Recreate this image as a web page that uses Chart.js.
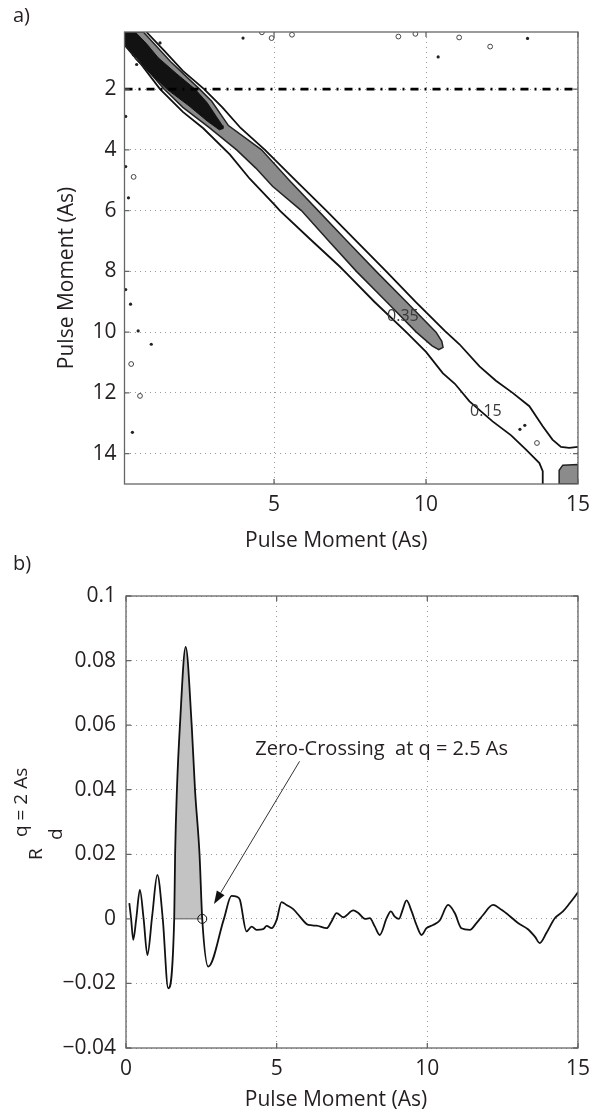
<!DOCTYPE html>
<html>
<head>
<meta charset="utf-8">
<script src="https://cdn.jsdelivr.net/npm/chart.js@4.4.1/dist/chart.umd.min.js"></script>
<style>
  body { margin: 0; background: #fff; }
  #page { position: relative; width: 598px; height: 1114px; overflow: hidden; }
  .box { position: absolute; left: 0; width: 598px; }
  .tag { position: absolute; left: 13px; font: 20px "Open Sans", sans-serif; color: #231f20; line-height: 1; }
</style>
</head>
<body>
<div id="page">
  <div class="box" style="top:0;height:560px"><canvas id="chartA" width="598" height="560"></canvas></div>
  <div class="box" style="top:560px;height:554px"><canvas id="chartB" width="598" height="554"></canvas></div>
  <div class="tag" style="top:5px">a)</div>
  <div class="tag" style="top:553px">b)</div>
</div>
<script>
const FONT = "'Open Sans', sans-serif";
const INK = "#231f20";

// ---- panel a: pulse moment vs pulse moment ----
const xTicksA = [5, 10, 15];
const yTicksA = [2, 4, 6, 8, 10, 12, 14];
const qMinA = 0.08;
const pMinA = 0.12;
const qRef = 2; // reference pulse moment (dash-dot line)

// 0.35 contour, filled grey band along the diagonal
const bandX = [0.08, 0.08, 0.45, 0.95, 1.38, 2.0, 2.85, 3.77, 4.4, 4.95, 5.9, 6.8, 7.71, 8.7, 9.68, 10.2, 10.42, 10.56, 10.52, 10.33, 9.35, 8.36, 7.4, 6.45, 5.5, 4.59, 3.5, 2.95, 2.55, 1.6, 0.7, 0.08];
const bandY = [0.12, 0.45, 1.0, 1.5, 2.0, 2.6, 3.25, 4.0, 4.6, 5.2, 6.0, 7.0, 8.0, 9.0, 10.0, 10.45, 10.58, 10.5, 10.3, 10.0, 9.0, 8.0, 7.0, 6.0, 5.0, 4.0, 3.2, 2.4, 2.0, 1.1, 0.12, 0.12];
// dark core at the upper left
const coreX = [0.08, 0.43, 0.8, 1.19, 1.8, 2.4, 2.8, 3.1, 3.3, 3.32, 3.2, 2.8, 2.2, 1.47, 0.9, 0.48, 0.08, 0.08];
const coreY = [0.12, 0.12, 0.5, 0.97, 1.5, 2.0, 2.45, 2.9, 3.2, 3.3, 3.34, 3.05, 2.55, 2.0, 1.45, 0.97, 0.5, 0.12];
// 0.15 contour lines on both sides
const lowX = [0.08, 0.6, 1.25, 2.0, 2.67, 3.55, 4.2, 5.02, 5.19, 6.2, 7.16, 7.32, 8.3, 9.35, 10.0, 10.55, 10.95, 11.43, 12.19, 12.8, 13.29, 13.73, 13.84, 13.84];
const lowY = [0.55, 1.15, 2.0, 2.75, 3.29, 4.16, 4.95, 5.81, 6.0, 6.95, 7.84, 8.0, 9.0, 10.0, 10.65, 11.35, 11.7, 12.28, 12.94, 13.4, 13.87, 14.31, 14.58, 15.0];
const upX = [0.8, 1.4, 2.0, 2.7, 3.3, 3.9, 4.7, 5.7, 6.72, 7.7, 8.69, 9.65, 10.61, 11.1, 11.76, 12.3, 12.85, 13.4, 13.84, 14.16, 14.44, 14.71, 15.0];
const upY = [0.12, 0.75, 1.4, 2.0, 2.6, 3.28, 4.0, 5.0, 6.0, 7.0, 8.0, 9.0, 9.95, 10.4, 11.13, 11.6, 12.0, 12.44, 13.1, 13.54, 13.78, 13.81, 13.78];
// grey patch in the lower right corner
const patchX = [14.38, 14.38, 14.5, 15.0, 15.0, 14.38];
const patchY = [15.0, 14.55, 14.38, 14.36, 15.0, 15.0];
// small noise contours
const ringX = [4.6, 4.92, 5.59, 9.09, 9.65, 11.09, 12.11, 0.38, 0.3, 0.59, 13.65];
const ringY = [0.13, 0.32, 0.21, 0.27, 0.18, 0.3, 0.6, 4.89, 11.05, 12.1, 13.65];
const dotX = [1.25, 0.37, 0.48, 3.98, 10.4, 13.34, 0.21, 0.28, 0.53, 0.96, 0.34, 13.09, 13.25, 0.12, 0.12, 0.12];
const dotY = [0.48, 0.87, 1.19, 0.32, 0.94, 0.33, 5.58, 9.08, 9.96, 10.4, 13.3, 13.2, 13.07, 2.9, 4.55, 8.6];
const contourLabels = [
  { text: "0.35", q: 9.24, p: 9.48 },
  { text: "0.15", q: 11.97, p: 12.61 },
];

// ---- panel b: R_d for q = 2 As ----
const xTicksB = [0, 5, 10, 15];
const yTicksB = [-0.04, -0.02, 0, 0.02, 0.04, 0.06, 0.08, 0.1];
const qB = [0.11, 0.17, 0.24, 0.34, 0.46, 0.585, 0.71, 0.87, 1.04, 1.22, 1.4, 1.6, 1.63, 1.69, 1.79, 1.98, 2.18, 2.29, 2.44, 2.53, 2.73, 3.25, 3.5, 3.67, 3.78, 4.0, 4.17, 4.33, 4.55, 4.67, 4.83, 5.0, 5.16, 5.33, 5.55, 5.77, 6.05, 6.32, 6.66, 6.82, 6.99, 7.21, 7.54, 7.71, 7.93, 8.09, 8.26, 8.42, 8.65, 8.79, 8.92, 9.06, 9.18, 9.31, 9.48, 9.64, 9.81, 9.97, 10.19, 10.41, 10.69, 10.91, 11.13, 11.41, 11.63, 11.85, 12.18, 12.46, 12.73, 13.01, 13.34, 13.57, 13.73, 13.95, 14.23, 14.5, 14.73, 15.0];
const rB = [0.0049, 0.0, -0.0065, 0.0, 0.009, 0.0, -0.0112, 0.001, 0.0136, 0.0, -0.0215, 0.0, 0.02, 0.04, 0.06, 0.0842, 0.06, 0.04, 0.02, 0.0, -0.0148, 0.0, 0.0071, 0.0069, 0.0059, -0.0039, -0.0024, -0.0034, -0.0032, -0.0022, -0.0029, -0.0003, 0.0052, 0.0043, 0.003, 0.0007, -0.0019, -0.0021, -0.0029, -0.0008, 0.0018, 0.0005, 0.0026, 0.0018, 0.0, 0.0002, -0.0024, -0.005, 0.0002, 0.0023, 0.0007, 0.0, 0.0028, 0.0057, 0.0023, -0.0019, -0.005, -0.0029, -0.0019, -0.0005, 0.0043, 0.0018, -0.0029, -0.0034, -0.0013, 0.0012, 0.0043, 0.0028, 0.0009, -0.0013, -0.0032, -0.0055, -0.0075, -0.0044, 0.0002, 0.0023, 0.0049, 0.0082];
const peakFrom = 1.6;
const zeroCross = 2.53;
const noteText = "Zero-Crossing  at q = 2.5 As";
const noteAt = [4.29, 0.0524];
const arrowFrom = [5.76, 0.0488];
const arrowTo = [2.92, 0.0046];

function pts(xs, ys) {
  return xs.map((x, i) => ({ x: x, y: ys[i] }));
}

function axisOpts(ticks, fit, pad, cb) {
  return {
    type: "linear",
    afterBuildTicks: (s) => { s.ticks = ticks.map((v) => ({ value: v })); },
    afterFit: fit,
    grid: { color: "#9a9a9a", lineWidth: 1, drawTicks: false },
    border: { display: false, dash: [1, 4] },
    ticks: {
      padding: pad,
      autoSkip: false,
      maxRotation: 0,
      color: INK,
      font: { family: FONT, size: 21 },
      callback: cb || ((v) => String(v)),
    },
  };
}

// box round the plot with small inward ticks, as in matlab
const frame = {
  id: "frame",
  afterDatasetsDraw(chart) {
    const { ctx, chartArea: a, scales } = chart;
    ctx.save();
    ctx.strokeStyle = "#666";
    ctx.lineWidth = 1.3;
    ctx.strokeRect(a.left, a.top, a.right - a.left, a.bottom - a.top);
    ctx.beginPath();
    scales.x.ticks.forEach((t) => {
      const p = scales.x.getPixelForValue(t.value);
      ctx.moveTo(p, a.bottom); ctx.lineTo(p, a.bottom - 5);
      ctx.moveTo(p, a.top); ctx.lineTo(p, a.top + 5);
    });
    scales.y.ticks.forEach((t) => {
      const p = scales.y.getPixelForValue(t.value);
      ctx.moveTo(a.left, p); ctx.lineTo(a.left + 5, p);
      ctx.moveTo(a.right, p); ctx.lineTo(a.right - 5, p);
    });
    ctx.stroke();
    ctx.restore();
  },
};

const textA = {
  id: "textA",
  afterDraw(chart) {
    const { ctx, chartArea: a, scales: { x, y } } = chart;
    ctx.save();
    ctx.fillStyle = INK;
    ctx.font = "21px " + FONT;
    ctx.textAlign = "center";
    ctx.textBaseline = "middle";
    ctx.fillText("Pulse Moment (As)", (a.left + a.right) / 2 - 15, a.bottom + 57);
    ctx.save();
    ctx.translate(a.left - 57, (a.top + a.bottom) / 2 + 20);
    ctx.rotate(-Math.PI / 2);
    ctx.fillText("Pulse Moment (As)", 0, 0);
    ctx.restore();
    ctx.fillStyle = "#3a3a3a";
    ctx.font = "16px " + FONT;
    contourLabels.forEach((l) => {
      ctx.fillText(l.text, x.getPixelForValue(l.q), y.getPixelForValue(l.p));
    });
    ctx.restore();
  },
};

const textB = {
  id: "textB",
  afterDraw(chart) {
    const { ctx, chartArea: a, scales: { x, y } } = chart;
    ctx.save();
    ctx.fillStyle = INK;
    ctx.font = "21px " + FONT;
    ctx.textAlign = "center";
    ctx.textBaseline = "middle";
    ctx.fillText("Pulse Moment (As)", (a.left + a.right) / 2 - 16, a.bottom + 52);

    // R_d^{q = 2 As}, rotated
    ctx.save();
    ctx.translate(a.left - 84, (a.top + a.bottom) / 2 + 38);
    ctx.rotate(-Math.PI / 2);
    ctx.textAlign = "left";
    ctx.textBaseline = "alphabetic";
    ctx.font = "19px " + FONT;
    ctx.fillText("R", 0, 0);
    ctx.fillText("d", 20, 20);
    ctx.fillText("q = 2 As", 23, -15);
    ctx.restore();

    // annotation
    ctx.textAlign = "left";
    ctx.font = "20px " + FONT;
    ctx.fillText(noteText, x.getPixelForValue(noteAt[0]), y.getPixelForValue(noteAt[1]));

    const x0 = x.getPixelForValue(arrowFrom[0]), y0 = y.getPixelForValue(arrowFrom[1]);
    const x1 = x.getPixelForValue(arrowTo[0]), y1 = y.getPixelForValue(arrowTo[1]);
    const ang = Math.atan2(y1 - y0, x1 - x0);
    const len = 13, half = 4.5;
    ctx.strokeStyle = "#333";
    ctx.lineWidth = 1;
    ctx.beginPath();
    ctx.moveTo(x0, y0);
    ctx.lineTo(x1 - Math.cos(ang) * len, y1 - Math.sin(ang) * len);
    ctx.stroke();
    ctx.fillStyle = "#111";
    ctx.beginPath();
    ctx.moveTo(x1, y1);
    ctx.lineTo(x1 - Math.cos(ang) * len - Math.sin(ang) * half, y1 - Math.sin(ang) * len + Math.cos(ang) * half);
    ctx.lineTo(x1 - Math.cos(ang) * len + Math.sin(ang) * half, y1 - Math.sin(ang) * len - Math.cos(ang) * half);
    ctx.closePath();
    ctx.fill();
    ctx.restore();
  },
};

new Chart(document.getElementById("chartA"), {
  type: "scatter",
  data: {
    datasets: [
      {
        data: [{ x: qMinA, y: qRef }, { x: 15, y: qRef }],
        showLine: true, pointRadius: 0, clip: 0,
        borderColor: "#000", borderWidth: 2.6, borderDash: [8, 6, 2, 6],
      },
      {
        data: pts(coreX, coreY),
        showLine: true, pointRadius: 0, clip: 0, fill: "shape",
        backgroundColor: "#121212", borderColor: "#121212", borderWidth: 1,
      },
      {
        data: pts(bandX, bandY),
        showLine: true, pointRadius: 0, clip: 0, fill: "shape",
        backgroundColor: "#8b8b8b", borderColor: "#222", borderWidth: 1.5,
      },
      {
        data: pts(lowX, lowY),
        showLine: true, pointRadius: 0, clip: 0,
        borderColor: "#111", borderWidth: 1.8,
      },
      {
        data: pts(upX, upY),
        showLine: true, pointRadius: 0, clip: 0,
        borderColor: "#111", borderWidth: 1.8,
      },
      {
        data: pts(patchX, patchY),
        showLine: true, pointRadius: 0, clip: 0, fill: "shape",
        backgroundColor: "#8b8b8b", borderColor: "#222", borderWidth: 1.5,
      },
      {
        data: pts(ringX, ringY),
        pointRadius: 2.4, pointBorderWidth: 1, clip: 0,
        pointBackgroundColor: "rgba(0,0,0,0)", pointBorderColor: "#444",
      },
      {
        data: pts(dotX, dotY),
        pointRadius: 1.6, pointBorderWidth: 0, clip: 0,
        pointBackgroundColor: "#222",
      },
    ],
  },
  options: {
    responsive: false,
    animation: false,
    events: [],
    layout: { padding: { top: 32, right: 19, left: 0, bottom: 0 } },
    plugins: { legend: { display: false }, tooltip: { enabled: false } },
    scales: {
      x: Object.assign(axisOpts(xTicksA, (s) => { s.height = 76; }, 8), { min: qMinA, max: 15 }),
      y: Object.assign(axisOpts(yTicksA, (s) => { s.width = 124.5; }, 8), { min: pMinA, max: 15, reverse: true }),
    },
  },
  plugins: [frame, textA],
});

const lineB = pts(qB, rB);
const peakB = lineB.filter((d) => d.x >= peakFrom && d.x <= zeroCross);

new Chart(document.getElementById("chartB"), {
  type: "scatter",
  data: {
    datasets: [
      {
        data: [{ x: zeroCross, y: 0 }],
        pointRadius: 4.5, pointBorderWidth: 1,
        pointBackgroundColor: "rgba(0,0,0,0)", pointBorderColor: "#111",
      },
      {
        data: lineB,
        showLine: true, pointRadius: 0, clip: 0,
        cubicInterpolationMode: "monotone",
        borderColor: "#111", borderWidth: 1.8,
      },
      {
        data: [{ x: peakFrom, y: 0 }, { x: zeroCross, y: 0 }],
        showLine: true, pointRadius: 0,
        borderColor: "#555", borderWidth: 1,
      },
      {
        data: peakB,
        showLine: true, pointRadius: 0,
        cubicInterpolationMode: "monotone",
        borderWidth: 0, borderColor: "rgba(0,0,0,0)",
        fill: { target: { value: 0 } }, backgroundColor: "#c3c3c3",
      },
    ],
  },
  options: {
    responsive: false,
    animation: false,
    events: [],
    layout: { padding: { top: 36, right: 19.5, left: 0, bottom: 0 } },
    plugins: { legend: { display: false }, tooltip: { enabled: false } },
    scales: {
      x: Object.assign(axisOpts(xTicksB, (s) => { s.height = 66; }, 8), { min: 0, max: 15 }),
      y: Object.assign(
        axisOpts(yTicksB, (s) => { s.width = 126; }, 10, (v) =>
          v === 0 ? "0" : (v < 0 ? "\u2212" : "") + String(+Math.abs(v).toFixed(2))
        ),
        { min: -0.04, max: 0.1 }
      ),
    },
  },
  plugins: [frame, textB],
});
</script>
</body>
</html>
